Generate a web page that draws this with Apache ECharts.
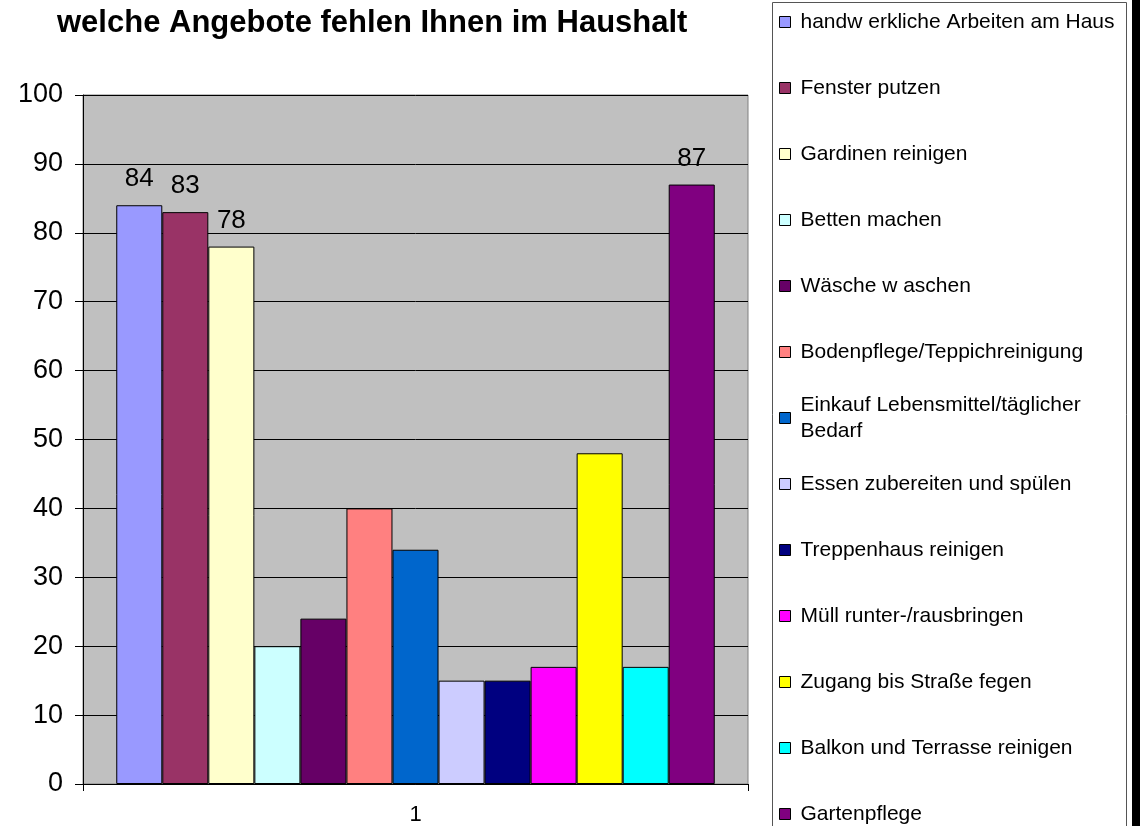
<!DOCTYPE html>
<html>
<head>
<meta charset="utf-8">
<script src="https://cdn.jsdelivr.net/npm/echarts@6/dist/echarts.min.js"></script>
<style>
  html, body { margin: 0; padding: 0; background: #fff; }
  #chart { width: 1140px; height: 826px; }
</style>
</head>
<body>
<div id="chart"></div>
<script>
// data
var categories = ['1'];
var seriesNames = [
  'handw erkliche Arbeiten am Haus',
  'Fenster putzen',
  'Gardinen reinigen',
  'Betten machen',
  'Wäsche w aschen',
  'Bodenpflege/Teppichreinigung',
  'Einkauf Lebensmittel/täglicher Bedarf',
  'Essen zubereiten und spülen',
  'Treppenhaus reinigen',
  'Müll runter-/rausbringen',
  'Zugang bis Straße fegen',
  'Balkon und Terrasse reinigen',
  'Gartenpflege'
];
var values = [84, 83, 78, 20, 24, 40, 34, 15, 15, 17, 48, 17, 87];
var labelled = [true, true, true, false, false, false, false, false, false, false, false, false, true];
var colors = ['#9999FF', '#993366', '#FFFFCC', '#CCFFFF', '#660066', '#FF8080', '#0066CC',
              '#CCCCFF', '#000080', '#FF00FF', '#FFFF00', '#00FFFF', '#800080'];
var yTicks = { min: 0, max: 100, interval: 10 };

var chart = echarts.init(document.getElementById('chart'));
var font = 'Liberation Sans, Arial, sans-serif';

var series = seriesNames.map(function (name, i) {
  return {
    name: name,
    type: 'bar',
    data: [values[i]],
    barGap: '0%',
    barCategoryGap: '10%',
    itemStyle: { color: colors[i], borderColor: '#000', borderWidth: 1 },
    label: {
      show: labelled[i],
      position: 'top',
      distance: 13,
      color: '#000',
      fontFamily: font,
      fontSize: 26
    }
  };
});

var legendBase = {
  orient: 'vertical',
  left: 779,
  padding: 0,
  height: 420,
  icon: 'rect',
  itemWidth: 11,
  itemHeight: 11,
  itemGap: 40,
  itemStyle: { borderColor: '#000', borderWidth: 1 },
  textStyle: { color: '#000', fontFamily: font, fontSize: 21, lineHeight: 26, padding: [0, 0, 0, 5] }
};

var option = {
  animation: false,
  color: colors,
  title: {
    text: 'welche Angebote fehlen Ihnen im Haushalt',
    left: 52,
    top: 3,
    textStyle: { fontFamily: font, fontWeight: 'bold', fontSize: 31, color: '#000' }
  },
  graphic: [
    { type: 'rect', shape: { x: 772.5, y: 2.5, width: 354, height: 840 },
      style: { fill: '#fff', stroke: '#555', lineWidth: 1 }, z: -1 },
    { type: 'rect', shape: { x: 1132, y: 0, width: 8, height: 826 },
      style: { fill: '#000' }, z: -1 }
  ],
  legend: [
    Object.assign({}, legendBase, { top: 9, data: seriesNames.slice(0, 6) }),
    Object.assign({}, legendBase, {
      top: 379,
      data: [{ name: seriesNames[6], textStyle: { padding: [26, 0, 0, 5] } }],
      formatter: function (n) { return n.replace(' Bedarf', '\nBedarf'); }
    }),
    Object.assign({}, legendBase, { top: 471, data: seriesNames.slice(7) })
  ],
  grid: {
    left: 83, right: 392, top: 95, bottom: 40,
    show: true, backgroundColor: '#C0C0C0', borderColor: '#808080', borderWidth: 1
  },
  xAxis: {
    type: 'category',
    data: categories,
    axisLine: { lineStyle: { color: '#000' } },
    axisTick: { show: true, length: 7, lineStyle: { color: '#000' } },
    axisLabel: { color: '#000', fontFamily: font, fontSize: 22, margin: 20 }
  },
  yAxis: {
    type: 'value',
    min: yTicks.min,
    max: yTicks.max,
    interval: yTicks.interval,
    axisLine: { show: true, lineStyle: { color: '#000' } },
    axisTick: { show: true, length: 8, lineStyle: { color: '#000' } },
    splitLine: { lineStyle: { color: '#000', width: 1 } },
    axisLabel: { color: '#000', fontFamily: font, fontSize: 27, margin: 20 }
  },
  series: series
};

chart.setOption(option);
</script>
</body>
</html>
